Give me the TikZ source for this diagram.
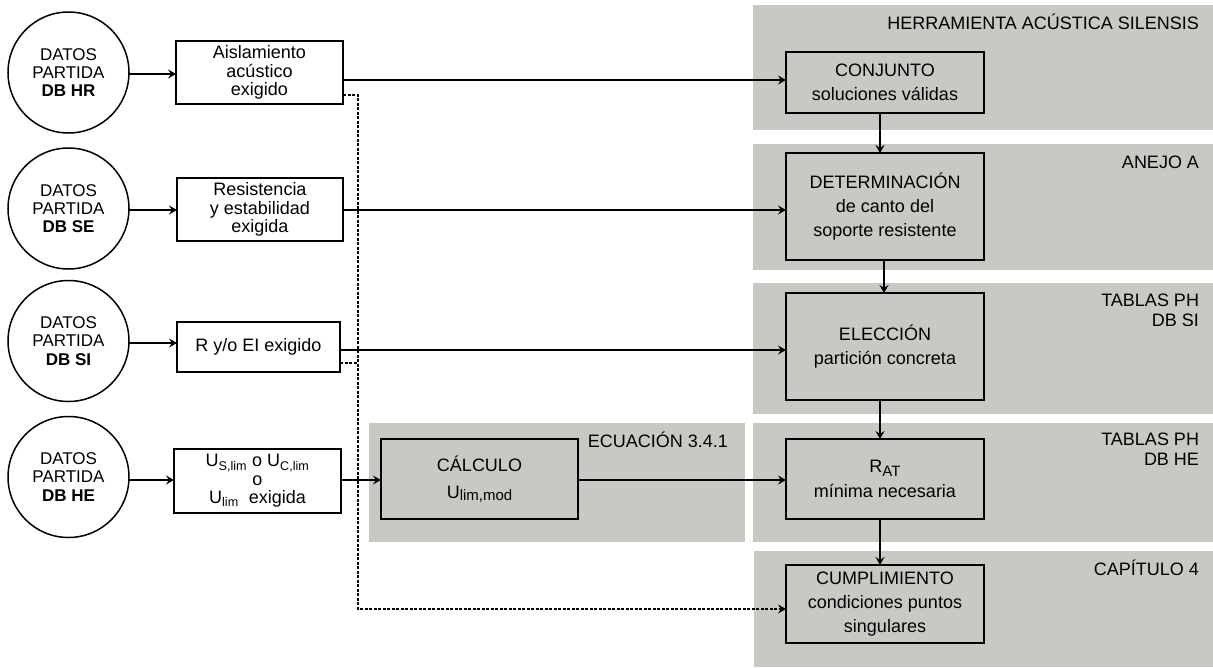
\documentclass[tikz,border=0pt]{standalone}
\usepackage{fontspec}
\setmainfont{Liberation Sans}
\usetikzlibrary{arrows.meta,calc}
\definecolor{panelgray}{RGB}{200,201,196}
\begin{document}
\begin{tikzpicture}[x=1pt,y=-1pt,
  every node/.style={inner sep=0pt, outer sep=0pt},
  circ/.style={circle, draw, line width=1.5pt, minimum size=121pt, align=center,
     font=\fontsize{17}{18.3}\selectfont},
  lbox/.style={draw, fill=white, line width=1.5pt, align=center,
     font=\fontsize{18}{18.4}\selectfont},
  rbox/.style={draw, line width=1.5pt, align=center, minimum width=198pt,
     font=\fontsize{18}{24.3}\selectfont},
  plabel/.style={font=\fontsize{18}{20}\selectfont, align=right},
  arr/.style={line width=1.6pt, -{Stealth[length=8pt,width=9pt,inset=3pt]}},
  darr/.style={line width=1.3pt, dash pattern=on 3pt off 1.5pt, -{Stealth[length=8pt,width=9pt,inset=3pt]}},
  dln/.style={line width=1.3pt, dash pattern=on 3pt off 1.5pt}
]
\useasboundingbox (0,0) rectangle (1213,667);
% panels
\fill[panelgray] (753,5) rectangle (1213,130);
\fill[panelgray] (753,144) rectangle (1213,270);
\fill[panelgray] (753,283) rectangle (1213,414);
\fill[panelgray] (753,423) rectangle (1213,542);
\fill[panelgray] (754,551) rectangle (1213,667);
\fill[panelgray] (369,423) rectangle (745,542);
% panel labels
\node[plabel, anchor=base east] (l1) at (1199,29) {HERRAMIENTA ACÚSTICA SILENSIS};
\node[plabel, anchor=base east] (l2) at (1199,168) {ANEJO A};
\node[plabel, anchor=north east] (l3) at (1199,294) {TABLAS PH\\DB SI};
\node[plabel, anchor=north east] (l4) at (1199,433) {TABLAS PH\\DB HE};
\node[plabel, anchor=base east] (l5) at (1199,575) {CAPÍTULO 4};
\node[plabel, anchor=base east] (l6) at (728,447) {ECUACIÓN 3.4.1};
% circles
\node[circ] (ci1) at (68.5,72.5) {DATOS\\PARTIDA\\\textbf{DB HR}};
\node[circ] (ci2) at (68.5,208.5) {DATOS\\PARTIDA\\\textbf{DB SE}};
\node[circ] (ci3) at (68.5,341) {DATOS\\PARTIDA\\\textbf{DB SI}};
\node[circ] (ci4) at (68.5,477) {DATOS\\PARTIDA\\\textbf{DB HE}};
% left boxes
\node[lbox, minimum width=167pt, minimum height=63pt] (b1) at (259.5,72.5) {Aislamiento\\acústico\\exigido};
\node[lbox, minimum width=166pt, minimum height=63pt] (b2) at (260,209.5) {Resistencia\\y estabilidad\\exigida};
\node[lbox, minimum width=163pt, minimum height=50pt] (b3) at (258.5,347) {R y/o EI exigido};
\node[lbox, minimum width=167pt, minimum height=64pt] (b4) at (257.5,481)
  {U\textsubscript{S,lim} o U\textsubscript{C,lim}\\o\\U\textsubscript{lim}\ \ exigida};
% calc box
\node[draw, line width=1.5pt, minimum width=197pt, minimum height=80pt, align=center,
  font=\fontsize{18}{27}\selectfont] (ca) at (479.5,479)
  {CÁLCULO\\U{\fontsize{15}{15}\selectfont\raisebox{-1.5pt}{lim,mod}}};
% right boxes
\node[rbox, minimum height=61pt] (c1) at (885,82.5) {CONJUNTO\\soluciones válidas};
\node[rbox, minimum height=107pt] (c2) at (885,206.5) {DETERMINACIÓN\\de canto del\\soporte resistente};
\node[rbox, minimum height=107pt] (c3) at (885,346.5) {ELECCIÓN\\partición concreta};
\node[rbox, minimum height=80pt] (c4) at (885,479) {R{\fontsize{15}{15}\selectfont\raisebox{-4pt}{AT}}\\mínima necesaria};
\node[rbox, minimum height=78pt] (c5) at (885,604) {CUMPLIMIENTO\\condiciones puntos\\singulares};
% circle arrows
\draw[arr] (ci1.east |- 0,74) -- (b1.west |- 0,74);
\draw[arr] (ci2.east |- 0,210) -- (b2.west |- 0,210);
\draw[arr] (ci3.east |- 0,343) -- (b3.west |- 0,343);
\draw[arr] (ci4.east |- 0,480) -- (b4.west |- 0,480);
% horizontal connectors
\coordinate (h1) at (0,80);
\coordinate (h2) at (0,210);
\coordinate (h3) at (0,350);
\coordinate (h4) at (0,480);
\draw[arr] (b1.east |- h1) -- (c1.west |- h1);
\draw[arr] (b2.east |- h2) -- (c2.west |- h2);
\draw[arr] (b3.east |- h3) -- (c3.west |- h3);
\draw[arr] (b4.east |- h4) -- (ca.west |- h4);
\draw[arr] (ca.east |- h4) -- (c4.west |- h4);
% vertical connectors
\draw[arr] ([xshift=-5pt]c1.south) -- ([xshift=-5pt]c2.north);
\draw[arr] ([xshift=-1pt]c2.south) -- ([xshift=-1pt]c3.north);
\draw[arr] ([xshift=-5pt]c3.south) -- ([xshift=-5pt]c4.north);
\draw[arr] ([xshift=-5pt]c4.south) -- ([xshift=-5pt]c5.north);
% dashed
\coordinate (d1) at (358,95);
\coordinate (d3) at (358,363);
\coordinate (d2) at (358,609);
\draw[darr] (b1.east |- d1) -- (d1) -- (d2) -- (c5.west |- d2);
\draw[dln] (b3.east |- d3) -- (d3);
\end{tikzpicture}
\end{document}
